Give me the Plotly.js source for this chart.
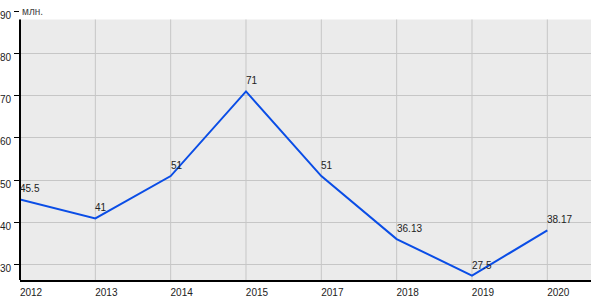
<!DOCTYPE html>
<html><head><meta charset="utf-8">
<script src="https://cdn.plot.ly/plotly-3.0.1.min.js"></script>
<style>body{margin:0;padding:0;background:#fff}</style>
</head><body>
<div id="chart" style="width:600px;height:300px"></div>
<script>
var years = ['2012','2013','2014','2015','2017','2018','2019','2020'];
var values = [45.5, 41, 51, 71, 51, 36.13, 27.5, 38.17];
var valueLabels = ['45.5','41','51','71','51','36.13','27.5','38.17'];
var yTicks = [30, 40, 50, 60, 70, 80, 90];
var unitLabel = 'млн.';

var yMin = 26.45, yMax = 90, bgTop = 88;

var trace = {
  x: years, y: values, type: 'scatter', mode: 'lines',
  line: {color: '#0a4de6', width: 2},
  cliponaxis: false, hoverinfo: 'none'
};

var shapes = [
  {type: 'rect', xref: 'paper', yref: 'y', x0: 0, x1: 1, y0: yMin, y1: bgTop,
   fillcolor: '#ebebeb', line: {width: 0}, layer: 'below'}
];
years.forEach(function (yr, i) {
  shapes.push({type: 'line', xref: 'x', yref: 'y', x0: i, x1: i, y0: yMin, y1: bgTop,
    line: {color: '#c6c6c6', width: 1}, layer: 'below'});
});
shapes.push({type: 'line', xref: 'paper', yref: 'y', x0: 0, x1: 0, y0: yMin, y1: bgTop,
  line: {color: '#000', width: 2}, layer: 'above'});

var annotations = [
  {text: unitLabel, xref: 'paper', yref: 'y', x: 0, y: yMax, xanchor: 'left', yanchor: 'middle',
   showarrow: false, font: {size: 10, color: '#444'}}
];
years.forEach(function (yr, i) {
  annotations.push({text: valueLabels[i], xref: 'x', yref: 'y', x: i, y: values[i],
    xanchor: 'left', yanchor: 'bottom', xshift: -2, yshift: 3, showarrow: false,
    font: {family: 'Liberation Sans, Arial, sans-serif', size: 10, color: '#222'}});
});

var layout = {
  width: 600, height: 300,
  margin: {l: 20, r: 9, t: 11, b: 20, pad: 0},
  paper_bgcolor: '#ffffff', plot_bgcolor: '#ffffff',
  showlegend: false,
  font: {family: 'Liberation Sans, Arial, sans-serif', size: 10, color: '#222'},
  xaxis: {
    type: 'category', range: [0, 7.58], showgrid: false,
    showline: true, linecolor: '#000', linewidth: 2, ticks: '', zeroline: false,
    ticklabelshift: 11, ticklabelstandoff: 2,
    tickfont: {size: 10, color: '#222'}
  },
  yaxis: {
    range: [yMin, yMax], tickvals: yTicks, showgrid: true, gridcolor: '#c6c6c6', gridwidth: 1,
    showline: false, ticks: 'outside', ticklen: 5, tickcolor: '#000', zeroline: false,
    ticklabelshift: 4, ticklabelstandoff: 1,
    tickfont: {size: 10, color: '#222'}
  },
  shapes: shapes,
  annotations: annotations
};

Plotly.newPlot('chart', [trace], layout, {displayModeBar: false, staticPlot: true});
</script>
</body></html>
